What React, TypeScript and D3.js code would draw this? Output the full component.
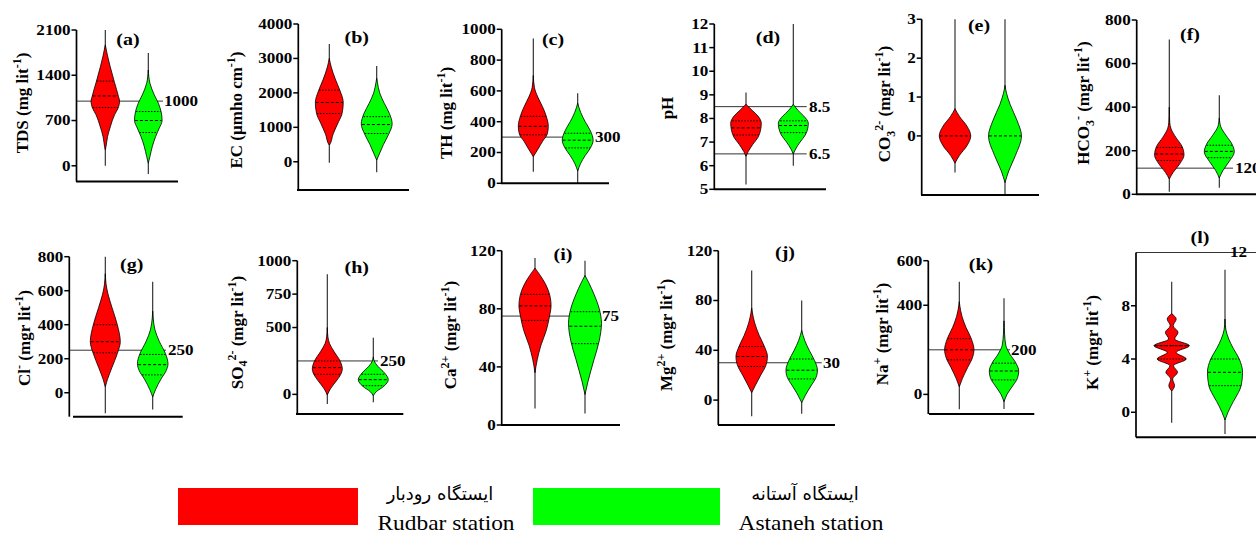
import React from 'react';
import * as d3 from 'd3';

type Seg = [string, 'n' | 'sup' | 'sub'];
type Prof = [number, number][];

// ---------------- DATA ----------------
const panelLetters = ['(a)', '(b)', '(c)', '(d)', '(e)', '(f)', '(g)', '(h)', '(i)', '(j)', '(k)', '(l)'];

const axisLabels: Seg[][] = [
  [['TDS (mg lit', 'n'], ['-1', 'sup'], [')', 'n']],
  [['EC (µmho cm', 'n'], ['-1', 'sup'], [')', 'n']],
  [['TH (mg lit', 'n'], ['-1', 'sup'], [')', 'n']],
  [['pH', 'n']],
  [['CO', 'n'], ['3', 'sub'], ['2-', 'sup'], [' (mgr lit', 'n'], ['-1', 'sup'], [')', 'n']],
  [['HCO', 'n'], ['3', 'sub'], ['-', 'sup'], [' (mgr lit', 'n'], ['-1', 'sup'], [')', 'n']],
  [['Cl', 'n'], ['-', 'sup'], [' (mgr lit', 'n'], ['-1', 'sup'], [')', 'n']],
  [['SO', 'n'], ['4', 'sub'], ['2-', 'sup'], [' (mgr lit', 'n'], ['-1', 'sup'], [')', 'n']],
  [['Ca', 'n'], ['2+', 'sup'], [' (mgr lit', 'n'], ['-1', 'sup'], [')', 'n']],
  [['Mg', 'n'], ['2+', 'sup'], [' (mgr lit', 'n'], ['-1', 'sup'], [')', 'n']],
  [['Na', 'n'], ['+', 'sup'], [' (mgr lit', 'n'], ['-1', 'sup'], [')', 'n']],
  [['K', 'n'], ['+', 'sup'], [' (mgr lit', 'n'], ['-1', 'sup'], [')', 'n']],
];

const yDomains: [number, number][] = [
  [-243, 2100], [-820, 4000], [0, 1000], [5, 12], [-1.52, 3], [0, 800],
  [-141, 800], [-147, 1000], [0, 120], [-20, 120], [-88, 600], [-1.88, 12],
];

const yTicks: number[][] = [
  [0, 700, 1400, 2100],
  [0, 1000, 2000, 3000, 4000],
  [0, 200, 400, 600, 800, 1000],
  [5, 6, 7, 8, 9, 10, 11, 12],
  [0, 1, 2, 3],
  [0, 200, 400, 600, 800],
  [0, 200, 400, 600, 800],
  [0, 500, 750, 1000],
  [0, 40, 80, 120],
  [0, 40, 80, 120],
  [0, 400, 600],
  [0, 4, 8],
];

const refValues: number[][] = [[1000], [], [300], [8.5, 6.5], [], [120], [250], [250], [75], [30], [200], [12]];

// Rudbar station (red) violins: [value, relative density]
const redProfiles: Prof[] = [
  [[247, 0], [300, 0.05], [450, 0.15], [600, 0.33], [790, 0.62], [890, 0.85], [1000, 0.95], [1070, 0.88], [1300, 0.6], [1530, 0.33], [1700, 0.15], [1870, 0]],
  [[485, 0], [500, 0.03], [800, 0.25], [1100, 0.55], [1400, 0.85], [1720, 0.93], [2080, 0.7], [2400, 0.4], [2750, 0.13], [3000, 0]],
  [[173, 0], [220, 0.3], [270, 0.6], [320, 0.93], [370, 1.0], [440, 0.85], [500, 0.6], [560, 0.3], [620, 0.08], [700, 0]],
  [[6.4, 0], [6.6, 0.15], [6.9, 0.45], [7.2, 0.8], [7.5, 0.97], [7.8, 1.02], [8.1, 0.8], [8.35, 0.4], [8.6, 0]],
  [[-0.7, 0], [-0.5, 0.3], [-0.25, 0.8], [0, 1.05], [0.25, 0.8], [0.5, 0.3], [0.7, 0]],
  [[70, 0], [100, 0.25], [140, 0.7], [180, 0.98], [220, 0.85], [260, 0.45], [300, 0.12], [330, 0.03], [400, 0]],
  [[35, 0], [80, 0.15], [150, 0.45], [230, 0.8], [300, 1.0], [400, 0.8], [500, 0.45], [580, 0.18], [640, 0.05], [700, 0]],
  [[-5, 0], [40, 0.2], [100, 0.6], [150, 0.9], [190, 1.0], [250, 0.85], [320, 0.45], [380, 0.15], [430, 0.04], [500, 0]],
  [[36, 0], [45, 0.15], [55, 0.4], [65, 0.75], [75, 0.97], [82, 1.07], [90, 0.97], [97, 0.7], [103, 0.35], [108, 0]],
  [[6, 0], [12, 0.25], [20, 0.6], [28, 0.95], [35, 1.05], [43, 0.85], [52, 0.5], [62, 0.2], [70, 0.05], [74, 0]],
  [[34, 0], [70, 0.2], [120, 0.55], [165, 0.88], [200, 0.98], [250, 0.8], [300, 0.45], [350, 0.18], [400, 0.03], [416, 0]],
  [[1.6, 0], [2, 0.19], [2.5, 0.06], [3, 0.39], [3.5, 0.12], [4, 0.97], [4.5, 0.3], [5, 1.18], [5.5, 0.2], [6, 0.42], [6.5, 0.1], [7, 0.3], [7.4, 0]],
];

// Astaneh station (green) violins
const greenProfiles: Prof[] = [
  [[41, 0], [144, 0.11], [300, 0.27], [453, 0.49], [582, 0.73], [700, 0.92], [840, 0.85], [968, 0.67], [1096, 0.4], [1276, 0.11], [1480, 0]],
  [[49, 0], [250, 0.2], [500, 0.45], [800, 0.8], [1100, 1.03], [1400, 0.85], [1700, 0.5], [2000, 0.2], [2300, 0.05], [2424, 0]],
  [[80, 0], [130, 0.2], [180, 0.5], [230, 0.85], [280, 1.03], [340, 0.85], [400, 0.5], [460, 0.2], [520, 0]],
  [[6.5, 0], [6.7, 0.15], [7.0, 0.45], [7.3, 0.8], [7.6, 0.97], [7.8, 1.0], [8.1, 0.7], [8.35, 0.3], [8.6, 0]],
  [[-1.2, 0], [-0.9, 0.25], [-0.5, 0.7], [0, 1.1], [0.4, 0.8], [0.8, 0.35], [1.1, 0.1], [1.3, 0]],
  [[75, 0], [110, 0.25], [150, 0.65], [195, 1.0], [230, 0.85], [270, 0.45], [310, 0.1], [350, 0]],
  [[-25, 0], [20, 0.2], [80, 0.55], [130, 0.9], [170, 1.02], [230, 0.85], [300, 0.45], [370, 0.15], [440, 0.03], [480, 0]],
  [[-10, 0], [20, 0.2], [60, 0.7], [110, 1.0], [160, 0.75], [210, 0.3], [250, 0.06], [280, 0]],
  [[21, 0], [30, 0.2], [45, 0.6], [58, 0.95], [70, 1.1], [80, 0.95], [90, 0.6], [98, 0.25], [103, 0]],
  [[-2, 0], [4, 0.25], [12, 0.65], [18, 0.95], [24, 1.05], [32, 0.85], [40, 0.5], [48, 0.2], [56, 0]],
  [[-33, 0], [0, 0.2], [40, 0.6], [70, 0.88], [105, 0.98], [140, 0.8], [180, 0.4], [220, 0.12], [270, 0.04], [330, 0]],
  [[-0.58, 0], [0, 0.2], [0.8, 0.55], [1.5, 0.9], [2, 1.08], [3, 1.17], [4, 0.95], [4.8, 0.55], [5.5, 0.25], [6.2, 0.06], [7, 0]],
];

// [min, max]
const redWhiskers: [number, number][] = [
  [0, 2100], [-30, 3420], [75, 940], [5.2, 9.1], [-0.94, 3], [12, 711],
  [-121, 800], [-73, 898], [11.4, 115], [-13, 104], [-67, 506], [-0.78, 9.8],
];
const greenWhiskers: [number, number][] = [
  [-128, 1745], [-308, 2782], [0, 584], [6.0, 12], [-1.52, 3], [30, 455],
  [-98, 653], [-60, 424], [8, 113], [-11, 80], [-65, 431], [-1.63, 10.7],
];

// [Q1, median, Q3]
const redQuartiles: (number | null)[][] = [
  [900, 1080, 1310], [1400, 1720, 2080], [315, 370, 435], [7.3, 7.6, 7.9], [null, 0, null], [155, 185, 215],
  [235, 300, 400], [150, 200, 250], [72, 82, 90], [27, 35, 43], [155, 200, 250], [4, 5, 5],
];
const greenQuartiles: (number | null)[][] = [
  [515, 700, 839], [820, 1080, 1310], [230, 280, 325], [7.4, 7.7, 7.9], [null, 0, null], [168, 197, 225],
  [105, 165, 225], [65, 110, 150], [56, 68, 78], [17, 24, 33], [65, 105, 140], [2, 3, 4],
];

const legendPersian = ['ایستگاه رودبار', 'ایستگاه آستانه'];
const legendEnglish = ['Rudbar station', 'Astaneh station'];

// ---------------- LAYOUT ----------------
interface L {
  ax: number; top: number; bottom: number; xs: number; xe: number;
  red: number; green: number; lx: number; ly: number; tx: number; ty: number;
  refEnd?: number; refLx?: number;
}
const layout: L[] = [
  { ax: 76.5, top: 30, bottom: 181.5, xs: 76, xe: 178, red: 105.3, green: 148.3, lx: 28, ly: 103, tx: 128, ty: 45, refEnd: 163, refLx: 164 },
  { ax: 298.3, top: 24, bottom: 190, xs: 297, xe: 409, red: 329.3, green: 376.7, lx: 242.3, ly: 110, tx: 356.7, ty: 43 },
  { ax: 501.7, top: 29.3, bottom: 183.3, xs: 501, xe: 609, red: 533.3, green: 577.7, lx: 451.7, ly: 113, tx: 553, ty: 45, refEnd: 593, refLx: 595 },
  { ax: 714.3, top: 24, bottom: 189.3, xs: 714, xe: 826, red: 746, green: 793.3, lx: 672.7, ly: 108, tx: 768, ty: 43, refEnd: 806.7, refLx: 809 },
  { ax: 921.7, top: 19.3, bottom: 195, xs: 921, xe: 1039, red: 955, green: 1005, lx: 890, ly: 104, tx: 979, ty: 31 },
  { ax: 1136.7, top: 20, bottom: 194.3, xs: 1136, xe: 1256, red: 1169.3, green: 1219.3, lx: 1089.3, ly: 103, tx: 1190, ty: 40, refEnd: 1233, refLx: 1235 },
  { ax: 69.3, top: 256.7, bottom: 416.7, xs: 73, xe: 182.7, red: 105.3, green: 152.7, lx: 30, ly: 338, tx: 131.7, ty: 270, refEnd: 166, refLx: 168 },
  { ax: 297.3, top: 260.7, bottom: 414, xs: 296, xe: 403.3, red: 327.3, green: 373.3, lx: 242.7, ly: 332.5, tx: 356.7, ty: 273, refEnd: 378, refLx: 380 },
  { ax: 501.7, top: 250.7, bottom: 425, xs: 501, xe: 620, red: 535, green: 585, lx: 456, ly: 335, tx: 563, ty: 260, refEnd: 600, refLx: 602 },
  { ax: 718.3, top: 250.7, bottom: 425, xs: 718, xe: 835, red: 751.7, green: 801.7, lx: 672.3, ly: 335, tx: 785, ty: 258, refEnd: 821.7, refLx: 823 },
  { ax: 928.3, top: 260.7, bottom: 414, xs: 929, xe: 1034.3, red: 959.3, green: 1004, lx: 887.7, ly: 334, tx: 981, ty: 270, refEnd: 1010, refLx: 1011 },
  { ax: 1136, top: 252.5, bottom: 437.3, xs: 1136, xe: 1256, red: 1171.7, green: 1225, lx: 1097.7, ly: 342.5, tx: 1200, ty: 243, refEnd: 1256, refLx: 1230 },
];

const FONT = "'Liberation Serif', 'Times New Roman', serif";
const RED = '#ff0000';
const GREEN = '#00ff00';
const HALF_W = 15;
const SX = 1.22;

function widthAt(prof: Prof, v: number): number {
  const s = [...prof].sort((a, b) => a[0] - b[0]);
  for (let i = 0; i < s.length - 1; i++) {
    if (v >= s[i][0] && v <= s[i + 1][0]) {
      const t = (v - s[i][0]) / (s[i + 1][0] - s[i][0] || 1);
      return s[i][1] + t * (s[i + 1][1] - s[i][1]);
    }
  }
  return 0;
}

function Violin({ prof, cx, y, fill, whisk, q }: { prof: Prof; cx: number; y: d3.ScaleLinear<number, number>; fill: string; whisk: [number, number]; q: (number | null)[] }) {
  const pts = [...prof].sort((a, b) => b[0] - a[0]);
  const area = d3.area<[number, number]>()
    .y((d) => y(d[0]))
    .x0((d) => cx - d[1] * HALF_W)
    .x1((d) => cx + d[1] * HALF_W)
    .curve(d3.curveMonotoneY);
  const qLine = (v: number | null, dash: string, key: string) => {
    if (v === null) return null;
    const w = widthAt(prof, v) * HALF_W * 0.97;
    return <line key={key} x1={cx - w} x2={cx + w} y1={y(v)} y2={y(v)} stroke="#000" strokeWidth={1} strokeDasharray={dash} />;
  };
  return (
    <g>
      <line x1={cx} x2={cx} y1={y(whisk[0])} y2={y(whisk[1])} stroke="#222" strokeWidth={1.1} />
      <path d={area(pts) || ''} fill={fill} stroke="#000" strokeWidth={0.8} />
      {qLine(q[0], '1.5,1.5', 'q1')}
      {qLine(q[2], '1.5,1.5', 'q3')}
      {qLine(q[1], '3,2', 'med')}
    </g>
  );
}

function AxisLabel({ segs, x, y }: { segs: Seg[]; x: number; y: number }) {
  const base = 17;
  let shift = 0;
  const kids = segs.map((s, i) => {
    const target = s[1] === 'sup' ? -0.42 : s[1] === 'sub' ? 0.28 : 0;
    const dy = (target - shift) * base;
    shift = target;
    return (
      <tspan key={i} dy={dy} fontSize={s[1] === 'n' ? base : 12}>{s[0]}</tspan>
    );
  });
  return (
    <text transform={`translate(${x},${y}) rotate(-90)`} textAnchor="middle" fontFamily={FONT} fontWeight="bold" fill="#000">
      {kids}
    </text>
  );
}

function Panel({ i }: { i: number }) {
  const L = layout[i];
  const y = d3.scaleLinear().domain(yDomains[i]).range([L.bottom, L.top]);
  return (
    <g>
      {refValues[i].map((r, k) => (
        <g key={'r' + k}>
          <line x1={L.ax} x2={L.refEnd} y1={y(r)} y2={y(r)} stroke="#333" strokeWidth={1} />
          <text transform={`translate(${L.refLx},${y(r)}) scale(${SX},1)`} dy="0.35em" fontFamily={FONT} fontWeight="bold" fontSize={14}>{String(r)}</text>
        </g>
      ))}
      <Violin prof={redProfiles[i]} cx={L.red} y={y} fill={RED} whisk={redWhiskers[i]} q={redQuartiles[i]} />
      <Violin prof={greenProfiles[i]} cx={L.green} y={y} fill={GREEN} whisk={greenWhiskers[i]} q={greenQuartiles[i]} />
      <line x1={L.ax} x2={L.ax} y1={L.top} y2={L.bottom} stroke="#000" strokeWidth={1.7} />
      <line x1={L.xs} x2={L.xe} y1={L.bottom} y2={L.bottom} stroke="#000" strokeWidth={2} />
      {yTicks[i].map((t) => (
        <g key={t}>
          <line x1={L.ax - 5} x2={L.ax} y1={y(t)} y2={y(t)} stroke="#000" strokeWidth={1.5} />
          <text transform={`translate(${L.ax - 6},${y(t)}) scale(${SX},1)`} dy="0.35em" textAnchor="end" fontFamily={FONT} fontWeight="bold" fontSize={14}>{String(t)}</text>
        </g>
      ))}
      <AxisLabel segs={axisLabels[i]} x={L.lx} y={L.ly} />
      <text transform={`translate(${L.tx},${L.ty}) scale(1.25,1)`} textAnchor="middle" fontFamily={FONT} fontWeight="bold" fontSize={16}>{panelLetters[i]}</text>
    </g>
  );
}

export default function App() {
  return (
    <svg width={1256} height={536} style={{ position: 'absolute', left: 0, top: 0, background: '#fff' }}>
      <rect x={0} y={0} width={1256} height={536} fill="#fff" />
      {layout.map((_, i) => <Panel key={i} i={i} />)}
      <rect x={178} y={488} width={180} height={37} fill={RED} />
      <rect x={533} y={488} width={187} height={37} fill={GREEN} />
      <text x={440} y={500} textAnchor="middle" fontFamily="'DejaVu Sans', sans-serif" fontSize={18} direction="rtl">{legendPersian[0]}</text>
      <text x={805} y={500} textAnchor="middle" fontFamily="'DejaVu Sans', sans-serif" fontSize={18} direction="rtl">{legendPersian[1]}</text>
      <text transform={`translate(446,530) scale(1.17,1)`} textAnchor="middle" fontFamily={FONT} fontSize={20}>{legendEnglish[0]}</text>
      <text transform={`translate(811,530) scale(1.17,1)`} textAnchor="middle" fontFamily={FONT} fontSize={20}>{legendEnglish[1]}</text>
    </svg>
  );
}
